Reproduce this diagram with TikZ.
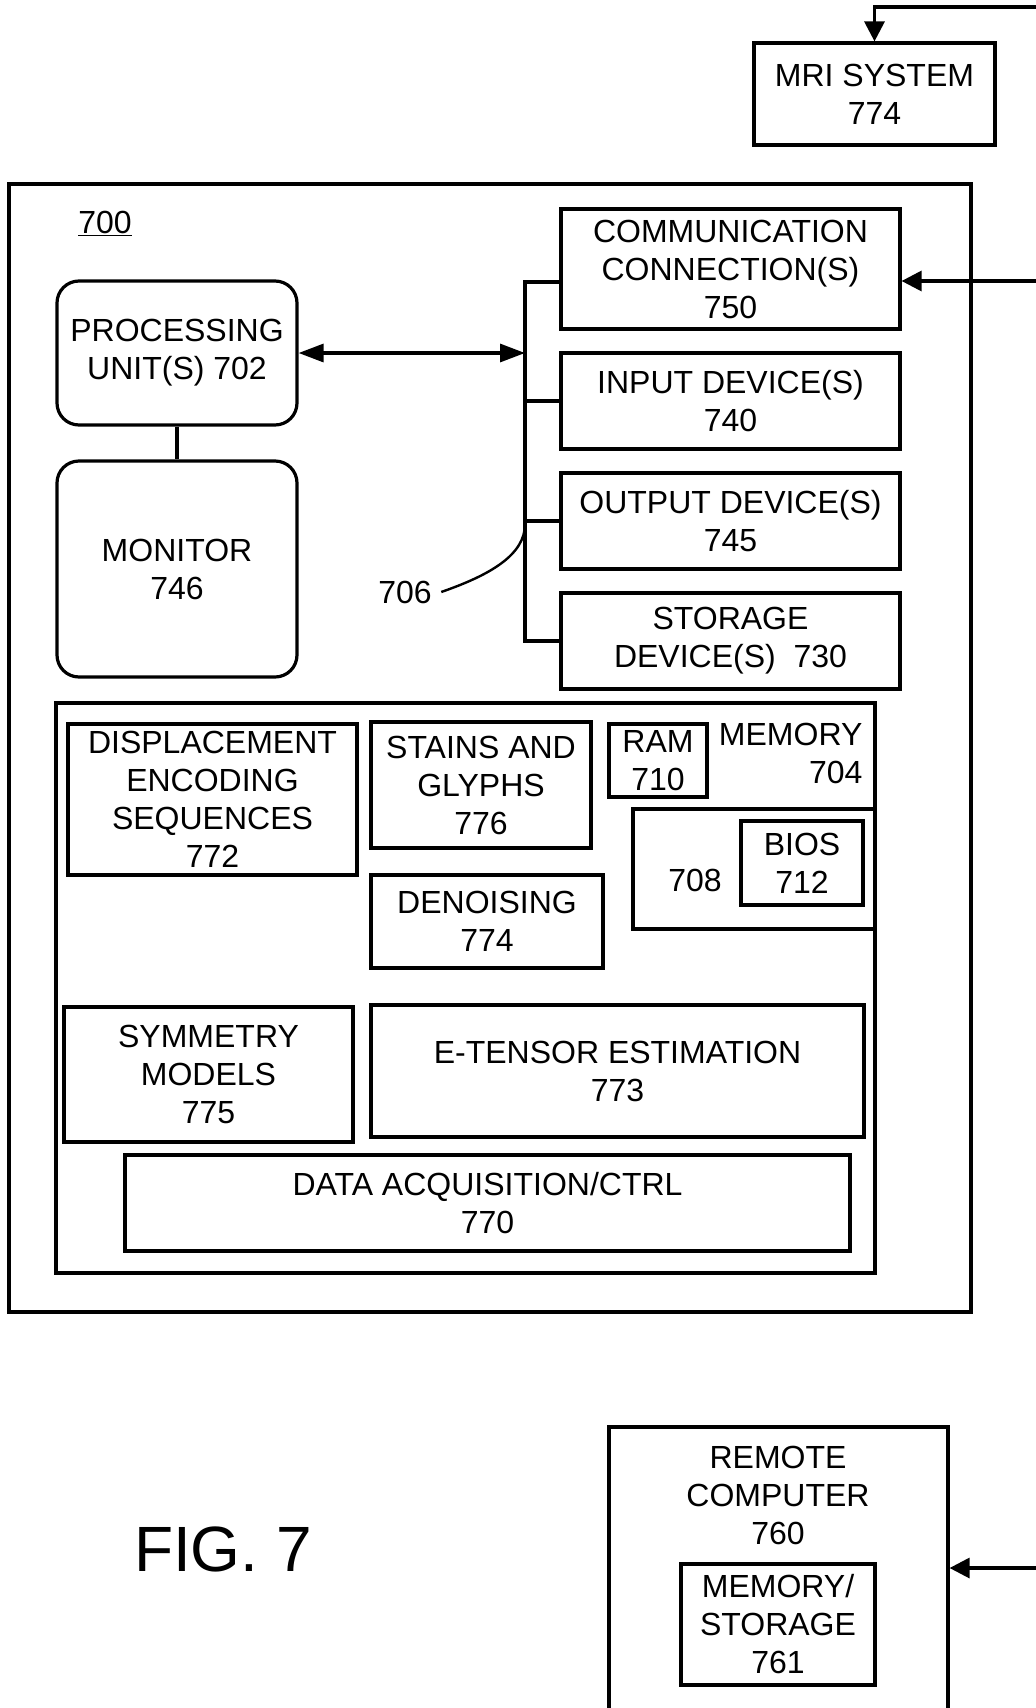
\documentclass[tikz,border=0pt]{standalone}
\usepackage{fontspec}
\setmainfont{Liberation Sans}
\usetikzlibrary{arrows.meta}
\newcommand\lab{\fontsize{32}{38}\selectfont}
\tikzset{
  x=1pt, y=-1pt,
  every path/.style={line width=3.2pt},
  box/.style={draw, line width=3.2pt, inner sep=0pt, align=center, font=\lab},
  rbox/.style={box, rounded corners=22pt},
  txt/.style={inner sep=0pt, font=\lab},
  ext/.style={-{Triangle[length=20pt,width=20pt]}},
  dbl/.style={{Triangle[length=25pt,width=18pt]}-{Triangle[length=25pt,width=18pt]}},
}
\begin{document}
\begin{tikzpicture}
\useasboundingbox[fill=white] (0,0) rectangle (1036,1708);

% MRI system
\node[box, minimum width=241pt, minimum height=102pt] (mri) at (874.5,94) {MRI SYSTEM\\774};
\coordinate (mriin) at (1042,7);
\draw[ext] (mriin) -- (mriin -| mri.north) -- (mri.north);

% outer computer box
\node[draw, line width=3.4pt, minimum width=962pt, minimum height=1128pt, inner sep=0pt] (outer) at (490,748) {};
\node[txt, anchor=base] (l700) at (105,233) {\underline{700}};

% processing and monitor
\node[rbox, minimum width=240pt, minimum height=144pt] (proc) at (177,353) {PROCESSING\\UNIT(S) 702};
\node[rbox, minimum width=240pt, minimum height=216pt] (mon) at (177,569) {MONITOR\\746};
\draw (proc.south) -- (mon.north);

% devices
\node[box, minimum width=339pt, minimum height=120pt] (comm) at (730.5,269) {COMMUNICATION\\CONNECTION(S)\\750};
\node[box, minimum width=339pt, minimum height=96pt] (input) at (730.5,401) {INPUT DEVICE(S)\\740};
\node[box, minimum width=339pt, minimum height=96pt] (output) at (730.5,521) {OUTPUT DEVICE(S)\\745};
\node[box, minimum width=339pt, minimum height=96pt] (storage) at (730.5,641) {STORAGE\\DEVICE(S)\ \ 730};

% bus
\coordinate (b1) at (525,282);
\coordinate (b4) at (525,641);
\coordinate (b706) at (525,524);
\draw (comm.west |- b1) -- (b1) -- (b4) -- (storage.west);
\draw (input.west) -- (input.west -| b1);
\draw (output.west) -- (output.west -| b1);
\draw[dbl] (proc.east) -- (proc.east -| b1);

% 706 label
\node[txt, anchor=base] (l706) at (405,603) {706};
\draw[line width=2.4pt] ([xshift=8pt]l706.east) .. controls (490,575) and (525,555) .. (b706);

% communication arrow
\coordinate (commin) at (1042,281);
\draw[ext] (commin) -- (commin -| comm.east);

% memory
\node[draw, line width=3.2pt, minimum width=819pt, minimum height=570pt, inner sep=0pt] (mem) at (465.5,988) {};
\node[txt, anchor=north east, align=right] (memlbl) at (864,722) {MEMORY\\704};
\node[box, minimum width=98pt, minimum height=73pt] (ram) at (658,760.5) {RAM\\710};
\node[box, minimum width=242pt, minimum height=120pt] (b708) at (754,869) {};
\node[txt, anchor=base] (l708) at (695,891) {708};
\node[box, minimum width=122pt, minimum height=84pt] (bios) at (802,863) {BIOS\\712};

\node[box, minimum width=289pt, minimum height=151pt] (disp) at (212.5,799.5) {DISPLACEMENT\\ENCODING\\SEQUENCES\\772};
\node[box, minimum width=220pt, minimum height=126pt] (stains) at (481,785) {STAINS AND\\GLYPHS\\776};
\node[box, minimum width=232pt, minimum height=93pt] (denoise) at (487,921.5) {DENOISING\\774};
\node[box, minimum width=289pt, minimum height=135pt] (symm) at (208.5,1074.5) {SYMMETRY\\MODELS\\775};
\node[box, minimum width=493pt, minimum height=132pt] (etensor) at (617.5,1071) {E-TENSOR ESTIMATION\\773};
\node[box, minimum width=725pt, minimum height=96pt] (daq) at (487.5,1203) {DATA ACQUISITION/CTRL\\770};

% figure label
\node[inner sep=0pt, anchor=base, font=\fontsize{64}{64}\selectfont] (fig) at (223,1571) {FIG. 7};

% remote computer
\node[draw, line width=3.2pt, minimum width=339pt, minimum height=288pt, inner sep=0pt] (remote) at (778.5,1571) {};
\node[txt, anchor=north, align=center] (remlbl) at (778,1445) {REMOTE\\COMPUTER\\760};
\node[box, minimum width=194pt, minimum height=121pt] (memst) at (778,1624.5) {MEMORY/\\STORAGE\\761};
\coordinate (remin) at (1042,1568);
\draw[ext] (remin) -- (remin -| remote.east);
\end{tikzpicture}
\end{document}
